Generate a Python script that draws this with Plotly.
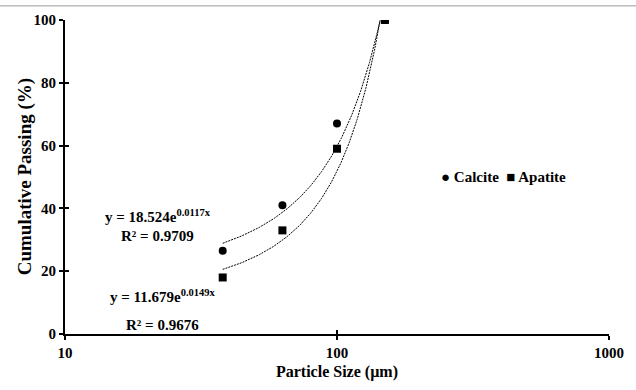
import numpy as np
import plotly.graph_objects as go

# Data
sizes = [38, 63, 100, 150]               # particle size (µm)
calcite = [26.5, 41, 67, 100]            # cumulative passing (%)
apatite = [18, 33, 59, 100]
# Excel exponential trendline coefficients as printed on the chart
calcite_fit = (18.524, 0.0117, 0.9709)
apatite_fit = (11.679, 0.0149, 0.9676)
x_ticks = [10, 100, 1000]
y_ticks = [0, 20, 40, 60, 80, 100]

FONT = "Liberation Serif"
BOLD = lambda s: dict(family=FONT, size=s, color="black", weight="bold")

def trend(coef, x0, x1):
    a, b, _ = coef
    xs = np.linspace(x0, x1, 300)
    ys = a * np.exp(b * xs)
    xs, ys = xs[ys <= 100], ys[ys <= 100]
    return xs, ys

fig = go.Figure()
for coef in (calcite_fit, apatite_fit):
    tx, ty = trend(coef, sizes[0], sizes[-1])
    fig.add_trace(go.Scatter(x=tx, y=ty, mode="lines", showlegend=False,
                             line=dict(color="black", width=1, dash="2px,1px"),
                             hoverinfo="skip"))

fig.add_trace(go.Scatter(x=sizes, y=apatite, mode="markers", name="Apatite",
                         showlegend=False,
                         marker=dict(symbol="square", size=8, color="black")))
fig.add_trace(go.Scatter(x=sizes, y=calcite, mode="markers", name="Calcite",
                         showlegend=False,
                         marker=dict(symbol="circle", size=8, color="black")))
# helper trace so the inside-tick overlay axes are drawn
fig.add_trace(go.Scatter(x=[x_ticks[0]], y=[y_ticks[0]], xaxis="x2", yaxis="y2",
                         mode="markers", marker=dict(opacity=0), showlegend=False,
                         hoverinfo="skip"))

axis_common = dict(showgrid=False, zeroline=False, showline=True,
                   linecolor="black", linewidth=2, ticks="outside",
                   tickwidth=2, ticklen=4, tickcolor="black",
                   tickfont=BOLD(15))

fig.update_layout(
    width=636, height=390,
    margin=dict(l=65, r=25, t=19, b=54),
    paper_bgcolor="white", plot_bgcolor="white",
    font=dict(family=FONT, color="black"),
    xaxis=dict(type="log", range=[1, 3], tickvals=x_ticks,
               ticktext=[str(v) for v in x_ticks],
               title=dict(text="Particle Size (µm)", standoff=6, font=BOLD(16)),
               **axis_common),
    yaxis=dict(range=[0, 100], tickvals=y_ticks, **axis_common),
    xaxis2=dict(type="log", range=[1, 3], tickvals=x_ticks, overlaying="x",
                showticklabels=False, showgrid=False, zeroline=False,
                ticks="inside", ticklen=4, tickwidth=2, tickcolor="black"),
    yaxis2=dict(range=[0, 100], tickvals=y_ticks, overlaying="y",
                showticklabels=False, showgrid=False, zeroline=False,
                ticks="inside", ticklen=4, tickwidth=2, tickcolor="black"),
    showlegend=False,
)

# y-axis title placed as rotated text
fig.add_annotation(x=-0.073, y=0.5, xref="paper", yref="paper", xanchor="center",
                   yanchor="middle", textangle=-90, text="Cumulative Passing (%)",
                   showarrow=False, font=BOLD(19))

# legend drawn as text, matching the compact Excel legend
fig.add_annotation(x=np.log10(238), y=50, xref="x", yref="y", xanchor="left",
                   text="● Calcite\u2002■ Apatite", showarrow=False, font=BOLD(15))

def add_eq(coef, xc, y1, y2):
    a, b, r2 = coef
    fig.add_annotation(x=np.log10(xc), y=y1, xref="x", yref="y",
                       text=f"y = {a:.3f}e<sup>{b:.4f}x</sup>",
                       showarrow=False, font=BOLD(15))
    fig.add_annotation(x=np.log10(xc), y=y2, xref="x", yref="y",
                       text=f"R² = {r2:.4f}", showarrow=False, font=BOLD(15))

add_eq(calcite_fit, 21.9, 37.6, 31.3)
add_eq(apatite_fit, 22.9, 12.0, 2.8)

fig.add_shape(type="line", xref="paper", yref="paper", x0=-0.12, x1=1.05,
              y0=1.045, y1=1.045, line=dict(color="#999999", width=1))

fig.write_html("out.html")
